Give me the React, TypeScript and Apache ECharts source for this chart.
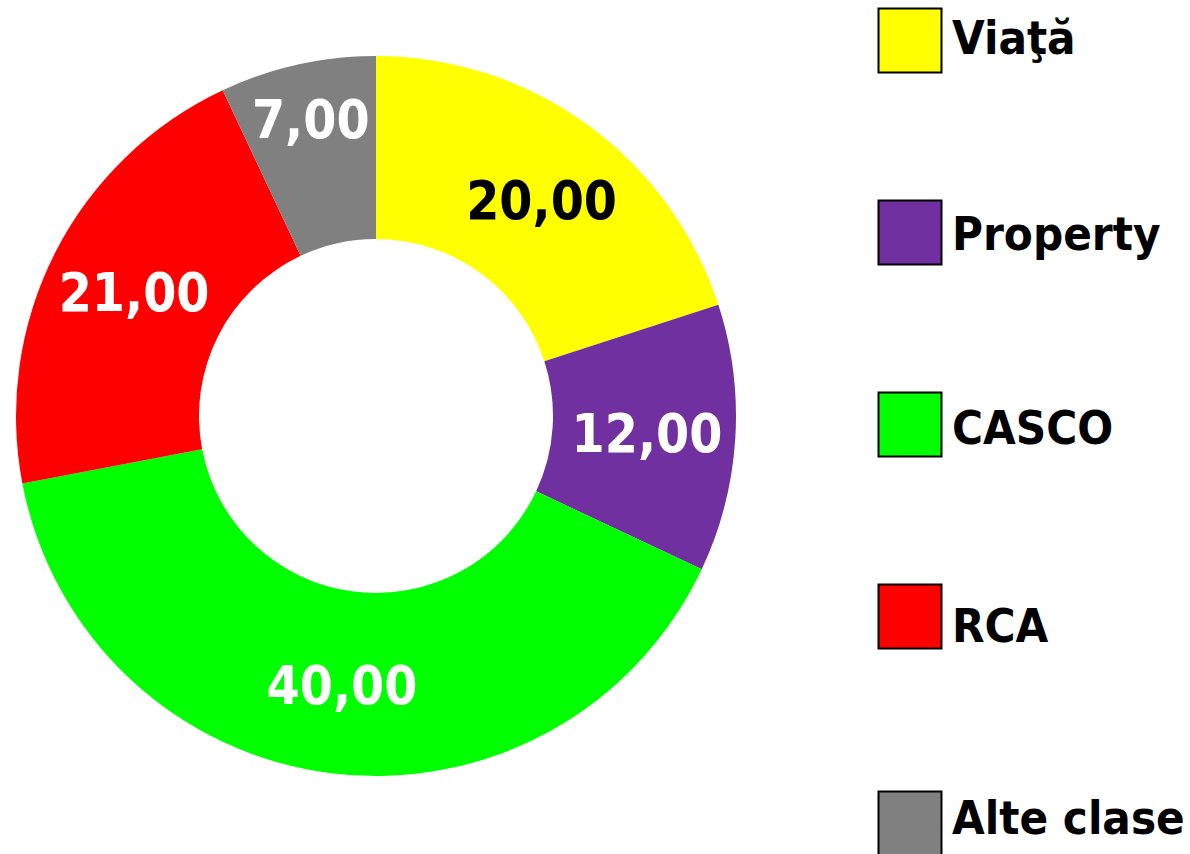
import React, { useEffect, useRef } from "react";
import * as echarts from "echarts";

const categories = ["Viaţă", "Property", "CASCO", "RCA", "Alte clase"];
const values = [20, 12, 40, 21, 7];
const colors = ["#FFFF00", "#7030A0", "#00FF00", "#FF0000", "#808080"];
const labelColors = ["#000000", "#FFFFFF", "#FFFFFF", "#FFFFFF", "#FFFFFF"];

const FONT = "'DejaVu Sans Condensed', 'DejaVu Sans', sans-serif";

// legend layout (pixel positions of boxes and text centres)
const legendBoxTops = [8, 200, 392, 584, 791];
const legendTextCenters = [37, 233, 427, 625, 817];

export default function App() {
  const ref = useRef<HTMLDivElement>(null);
  useEffect(() => {
    document.body.style.margin = "0";
    const chart = echarts.init(ref.current!, null, { renderer: "svg" });
    const data = categories.map((name, i) => ({
      name,
      value: values[i],
      itemStyle: { color: colors[i] },
      label: {
        color: labelColors[i],
        ...(i === 4 ? { offset: [-6, -32] } : {}),
        ...(i === 0 ? { offset: [6, 4] } : {}),
      },
    }));
    const legendGraphics: any[] = [];
    categories.forEach((name, i) => {
      legendGraphics.push({
        type: "rect",
        shape: { x: 878.5, y: legendBoxTops[i] + 0.5, width: 63, height: 64 },
        style: { fill: colors[i], stroke: "#000000", lineWidth: 2 },
      });
      legendGraphics.push({
        type: "text",
        x: 952,
        y: legendTextCenters[i],
        style: {
          text: name,
          fill: "#000000",
          font: `bold 47px ${FONT}`,
          textAlign: "left",
          textVerticalAlign: "middle",
          verticalAlign: "middle",
        },
      });
    });
    chart.setOption({
      animation: false,
      backgroundColor: "#FFFFFF",
      graphic: legendGraphics,
      series: [
        {
          type: "pie",
          center: [376, 416],
          radius: [177, 360],
          startAngle: 90,
          clockwise: true,
          avoidLabelOverlap: false,
          label: {
            show: true,
            position: "inside",
            formatter: (p: any) => p.value.toFixed(2).replace(".", ","),
            fontFamily: FONT,
            fontWeight: "bold",
            fontSize: 53,
          },
          labelLine: { show: false },
          emphasis: { disabled: true },
          data,
        },
      ],
    });
    return () => chart.dispose();
  }, []);
  return <div ref={ref} style={{ width: 1190, height: 854 }} />;
}
